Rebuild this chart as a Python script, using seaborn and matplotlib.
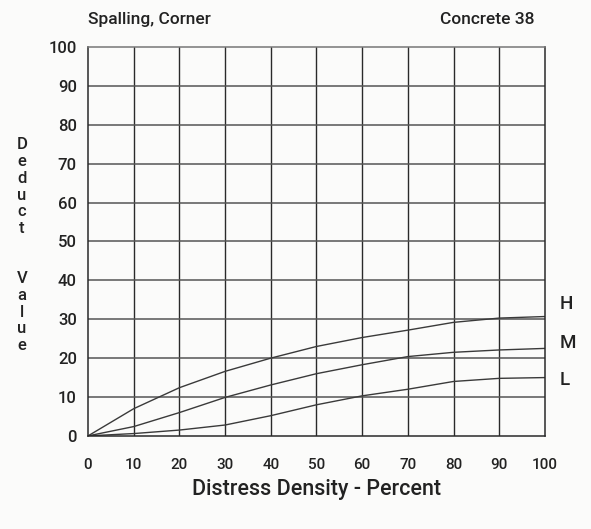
import matplotlib
matplotlib.use("Agg")
import matplotlib.pyplot as plt
import seaborn as sns
import pandas as pd

density = [0, 10, 20, 30, 40, 50, 60, 70, 80, 90, 100]
high = [0, 7.0, 12.4, 16.6, 20.0, 23.0, 25.3, 27.2, 29.2, 30.3, 30.7]
medium = [0, 2.4, 6.0, 9.9, 13.1, 16.0, 18.3, 20.4, 21.5, 22.1, 22.5]
low = [0, 0.6, 1.5, 2.8, 5.2, 8.0, 10.3, 12.0, 14.0, 14.8, 15.0]
levels = ["H", "M", "L"]
x_ticks = [0, 10, 20, 30, 40, 50, 60, 70, 80, 90, 100]
y_ticks = [0, 10, 20, 30, 40, 50, 60, 70, 80, 90, 100]

df = pd.DataFrame({
    "density": density * 3,
    "value": high + medium + low,
    "level": ["H"] * len(density) + ["M"] * len(density) + ["L"] * len(density),
})

sns.set_theme(style="white")
plt.rcParams["font.family"] = ["Roboto", "DejaVu Sans"]
FW = "medium"

fig = plt.figure(figsize=(5.91, 5.29), dpi=100)
fig.patch.set_facecolor("#fbfbfa")
ax = fig.add_axes([0.149, 0.176, 0.773, 0.735])
ax.set_facecolor("#fbfbfa")

sns.lineplot(data=df, x="density", y="value", hue="level",
             palette={"H": "#3a3a3a", "M": "#3a3a3a", "L": "#3a3a3a"},
             linewidth=1.0, legend=False, ax=ax)

ax.set_xlim(0, 100)
ax.set_ylim(0, 100)
ax.set_xticks(x_ticks)
ax.set_yticks(y_ticks)
ax.set_xticklabels([str(t) for t in x_ticks], fontsize=11, color="#222222", fontweight=FW)
ax.set_yticklabels([str(t) for t in y_ticks], fontsize=12, color="#222222", fontweight=FW)
ax.tick_params(axis="both", direction="out", length=4, width=1, color="#333333", pad=4)
ax.tick_params(axis="x", pad=12)

for v in x_ticks[1:-1]:
    ax.axvline(v, color="#2a2a2a", linewidth=1.0, zorder=0)
for v in y_ticks[1:-1]:
    ax.axhline(v, color="#555555", linewidth=1.1, zorder=0)

for s in ax.spines.values():
    s.set_color("#2a2a2a")
    s.set_linewidth(1.1)
ax.spines["top"].set_color("#777777")

ax.set_xlabel("Distress Density - Percent", fontsize=15.5, color="#222222",
              labelpad=5, fontweight=FW)
ax.set_ylabel("")

fig.text(0.149, 0.963, "Spalling, Corner", fontsize=12.5, color="#222222",
         ha="left", va="center", fontweight=FW)
fig.text(0.905, 0.963, "Concrete 38", fontsize=12.5, color="#222222",
         ha="right", va="center", fontweight=FW)

ylab = "Deduct  Value"
y0 = 0.726
for i, ch in enumerate(ylab):
    if ch != " ":
        fig.text(0.037, y0 - i * 0.0316, ch, fontsize=12, color="#222222",
                 ha="center", va="center", fontweight=FW)

label_y = {"H": 34.0, "M": 24.0, "L": 14.5}
for lv in levels:
    ax.text(103.3, label_y[lv], lv, fontsize=13.5, color="#222222", fontweight=FW,
            ha="left", va="center", transform=ax.transData, clip_on=False)

fig.savefig("out.png", dpi=100, facecolor=fig.get_facecolor())
